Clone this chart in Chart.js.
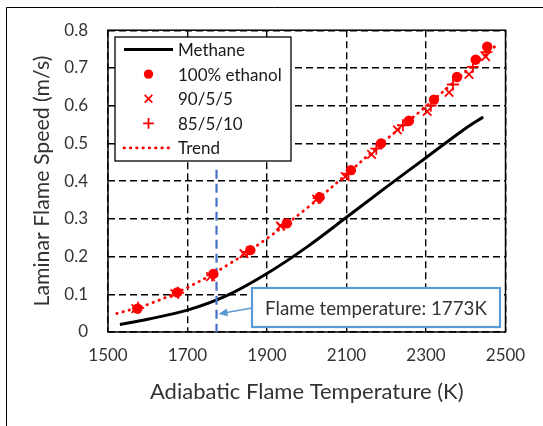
<!DOCTYPE html>
<html lang="en">
<head>
<meta charset="UTF-8">
<title>Laminar Flame Speed vs Adiabatic Flame Temperature</title>
<script src="https://cdn.jsdelivr.net/npm/chart.js"></script>
<style>
    body {
        margin: 0;
        background: #fff;
    }
    #wrap {
        width: 543px;
        height: 426px;
    }
</style>
</head>
<body>
<div id="wrap"><canvas id="flameChart" width="543" height="426"></canvas></div>

<script>
// values
const methaneT = [1530, 1600, 1700, 1800, 1900, 2000, 2100, 2200, 2300, 2400, 2444];
const methaneS = [0.020, 0.034, 0.058, 0.097, 0.155, 0.225, 0.304, 0.384, 0.462, 0.540, 0.570];

const ethanolT = [1574, 1674, 1765, 1858, 1950, 2032, 2111, 2187, 2257, 2320, 2378, 2425, 2454];
const ethanolS = [0.062, 0.105, 0.154, 0.217, 0.288, 0.357, 0.429, 0.500, 0.560, 0.616, 0.676, 0.722, 0.756];

const mix90T = [1570, 1668, 1758, 1842, 1934, 2025, 2097, 2163, 2228, 2303, 2358, 2408, 2450];
const mix90S = [0.062, 0.102, 0.147, 0.208, 0.281, 0.352, 0.412, 0.471, 0.536, 0.585, 0.635, 0.683, 0.730];

const mix85T = [1576, 1676, 1762, 1850, 1942, 2030, 2105, 2175, 2242, 2312, 2368, 2418, 2452];
const mix85S = [0.064, 0.104, 0.150, 0.212, 0.284, 0.355, 0.420, 0.486, 0.548, 0.600, 0.656, 0.703, 0.742];

const trendT = [1522, 1600, 1700, 1800, 1900, 2000, 2100, 2200, 2300, 2400, 2479];
const trendS = [0.049, 0.073, 0.118, 0.177, 0.248, 0.328, 0.418, 0.510, 0.598, 0.690, 0.762];

const flameTemp = 1773;
const flameLineTop = 0.43;
const arrowTipSpeed = 0.048;

const xTicks = [1500, 1700, 1900, 2100, 2300, 2500];
const yTicks = [0, 0.1, 0.2, 0.3, 0.4, 0.5, 0.6, 0.7, 0.8];

const seriesNames = ['Methane', '100% ethanol', '90/5/5', '85/5/10', 'Trend'];

const FONT = 'Lato, "Open Sans", sans-serif';
const RED = '#ff0000';

function pairs(xs, ys) {
    return xs.map((x, i) => ({ x: x, y: ys[i] }));
}

function drawMarker(ctx, style, x, y, r, color, width) {
    ctx.save();
    ctx.fillStyle = color;
    ctx.strokeStyle = color;
    ctx.lineWidth = width;
    ctx.beginPath();
    if (style === 'circle') {
        ctx.arc(x, y, r, 0, Math.PI * 2);
        ctx.fill();
    } else if (style === 'crossRot') {
        const d = r * Math.SQRT1_2;
        ctx.moveTo(x - d, y - d); ctx.lineTo(x + d, y + d);
        ctx.moveTo(x + d, y - d); ctx.lineTo(x - d, y + d);
        ctx.stroke();
    } else {
        ctx.moveTo(x - r, y); ctx.lineTo(x + r, y);
        ctx.moveTo(x, y - r); ctx.lineTo(x, y + r);
        ctx.stroke();
    }
    ctx.restore();
}

const extrasPlugin = {
    id: 'extras',
    beforeDraw(chart) {
        // outer figure border (left and top only)
        const ctx = chart.ctx;
        ctx.save();
        ctx.strokeStyle = '#000';
        ctx.lineWidth = 1;
        ctx.beginPath();
        ctx.moveTo(6.5, 426);
        ctx.lineTo(6.5, 7.5);
        ctx.lineTo(543, 7.5);
        ctx.stroke();
        ctx.restore();
    },
    beforeDatasetsDraw(chart) {
        const { left, top, right, bottom } = chart.chartArea;
        const ctx = chart.ctx;
        ctx.save();
        ctx.strokeStyle = '#000';
        ctx.lineWidth = 1.5;
        ctx.strokeRect(left, top, right - left, bottom - top);
        ctx.restore();
    },
    afterDraw(chart) {
        const ctx = chart.ctx;
        const xs = chart.scales.x;
        const ys = chart.scales.y;

        // legend box
        const lx = 115, ly = 37, lw = 176, lh = 124;
        ctx.save();
        ctx.fillStyle = '#fff';
        ctx.fillRect(lx, ly, lw, lh);
        ctx.strokeStyle = '#000';
        ctx.lineWidth = 1.3;
        ctx.strokeRect(lx, ly, lw, lh);

        ctx.font = '17px ' + FONT;
        ctx.textBaseline = 'middle';
        ctx.textAlign = 'left';
        ctx.fillStyle = '#1a1a1a';
        chart.data.datasets.forEach(ds => {
            if (ds.noLegend) return;
            const rowY = 49.5 + ds.legendRow * 24.6;
            if (ds.showLine) {
                ctx.save();
                ctx.strokeStyle = ds.borderColor;
                ctx.lineWidth = ds.borderWidth;
                ctx.lineCap = ds.borderCapStyle || 'butt';
                ctx.setLineDash(ds.borderDash || []);
                ctx.beginPath();
                ctx.moveTo(124, rowY);
                ctx.lineTo(173, rowY);
                ctx.stroke();
                ctx.restore();
            } else {
                drawMarker(ctx, ds.pointStyle, 148.5, rowY, ds.pointRadius * 0.9, RED, ds.pointBorderWidth || 1.5);
            }
            ctx.fillText(ds.label, 178, rowY + 1);
        });

        // annotation with arrow to the dashed line
        const tipX = xs.getPixelForValue(flameTemp) + 2;
        const tipY = ys.getPixelForValue(arrowTipSpeed);
        const bx = 252, by = 288, bw = 248, bh = 39;
        ctx.strokeStyle = '#5b9bd5';
        ctx.fillStyle = '#5b9bd5';
        ctx.lineWidth = 1.5;
        const sx = bx, sy = by + 20;
        const ang = Math.atan2(tipY - sy, tipX - sx);
        ctx.beginPath();
        ctx.moveTo(sx, sy);
        ctx.lineTo(tipX - 8 * Math.cos(ang), tipY - 8 * Math.sin(ang));
        ctx.stroke();
        ctx.beginPath();
        ctx.moveTo(tipX, tipY);
        ctx.lineTo(tipX - 9 * Math.cos(ang) + 4 * Math.sin(ang), tipY - 9 * Math.sin(ang) - 4 * Math.cos(ang));
        ctx.lineTo(tipX - 9 * Math.cos(ang) - 4 * Math.sin(ang), tipY - 9 * Math.sin(ang) + 4 * Math.cos(ang));
        ctx.closePath();
        ctx.fill();

        ctx.fillStyle = '#fff';
        ctx.fillRect(bx, by, bw, bh);
        ctx.strokeStyle = '#5b9bd5';
        ctx.lineWidth = 2.2;
        ctx.strokeRect(bx, by, bw, bh);
        ctx.fillStyle = '#333';
        ctx.font = '18.8px ' + FONT;
        ctx.textAlign = 'center';
        ctx.fillText('Flame temperature: ' + flameTemp + 'K', bx + bw / 2, by + bh / 2 + 1);
        ctx.restore();
    }
};

const ctx = document.getElementById('flameChart').getContext('2d');

new Chart(ctx, {
    type: 'scatter',
    data: {
        datasets: [
            {
                label: seriesNames[0],
                legendRow: 0,
                data: pairs(methaneT, methaneS),
                showLine: true,
                borderColor: '#000',
                borderWidth: 3,
                pointRadius: 0,
                tension: 0.35,
                order: 5
            },
            {
                label: seriesNames[1],
                legendRow: 1,
                data: pairs(ethanolT, ethanolS),
                pointStyle: 'circle',
                pointRadius: 5.2,
                backgroundColor: RED,
                borderColor: RED,
                pointBorderWidth: 0,
                order: 3
            },
            {
                label: seriesNames[2],
                legendRow: 2,
                data: pairs(mix90T, mix90S),
                pointStyle: 'crossRot',
                pointRadius: 6,
                borderColor: RED,
                backgroundColor: RED,
                pointBorderWidth: 1.8,
                order: 2
            },
            {
                label: seriesNames[3],
                legendRow: 3,
                data: pairs(mix85T, mix85S),
                pointStyle: 'cross',
                pointRadius: 6,
                borderColor: RED,
                backgroundColor: RED,
                pointBorderWidth: 1.8,
                order: 1
            },
            {
                label: seriesNames[4],
                legendRow: 4,
                data: pairs(trendT, trendS),
                showLine: true,
                borderColor: RED,
                borderWidth: 2.8,
                borderDash: [0.5, 5.8],
                borderCapStyle: 'round',
                pointRadius: 0,
                tension: 0.35,
                order: 0
            },
            {
                label: 'Flame temperature',
                noLegend: true,
                data: [{ x: flameTemp, y: flameLineTop }, { x: flameTemp, y: 0 }],
                showLine: true,
                borderColor: '#4472c4',
                borderWidth: 2.2,
                borderDash: [9, 5],
                pointRadius: 0,
                clip: false,
                order: 4
            }
        ]
    },
    options: {
        responsive: false,
        animation: false,
        devicePixelRatio: 1,
        layout: {
            padding: { left: 0, top: 30, right: 37.5, bottom: 0 }
        },
        plugins: {
            legend: { display: false },
            tooltip: { enabled: false }
        },
        scales: {
            x: {
                type: 'linear',
                min: xTicks[0],
                max: xTicks[xTicks.length - 1],
                afterBuildTicks: s => { s.ticks = xTicks.map(v => ({ value: v })); },
                afterFit: s => { s.height = 94; },
                grid: { color: '#000', lineWidth: 1.4, drawTicks: false },
                border: { display: false, dash: [7, 4] },
                ticks: {
                    color: '#333',
                    padding: 13,
                    maxRotation: 0,
                    font: { family: FONT, size: 17 },
                    callback: v => String(v)
                },
                title: {
                    display: true,
                    text: 'Adiabatic Flame Temperature (K)',
                    color: '#333',
                    font: { family: FONT, size: 22 },
                    padding: { top: 0, bottom: 21 }
                }
            },
            y: {
                type: 'linear',
                min: yTicks[0],
                max: yTicks[yTicks.length - 1],
                afterBuildTicks: s => { s.ticks = yTicks.map(v => ({ value: v })); },
                afterFit: s => { s.width = 108; },
                grid: { color: '#000', lineWidth: 1.4, drawTicks: false },
                border: { display: false, dash: [7, 4] },
                ticks: {
                    color: '#333',
                    padding: 20,
                    font: { family: FONT, size: 17 },
                    callback: v => (v === 0 ? '0' : v.toFixed(1))
                },
                title: {
                    display: true,
                    text: 'Laminar Flame Speed (m/s)',
                    color: '#333',
                    font: { family: FONT, size: 21.3 },
                    padding: { top: 29, bottom: 0 }
                }
            }
        }
    },
    plugins: [extrasPlugin]
});
</script>
</body>
</html>
